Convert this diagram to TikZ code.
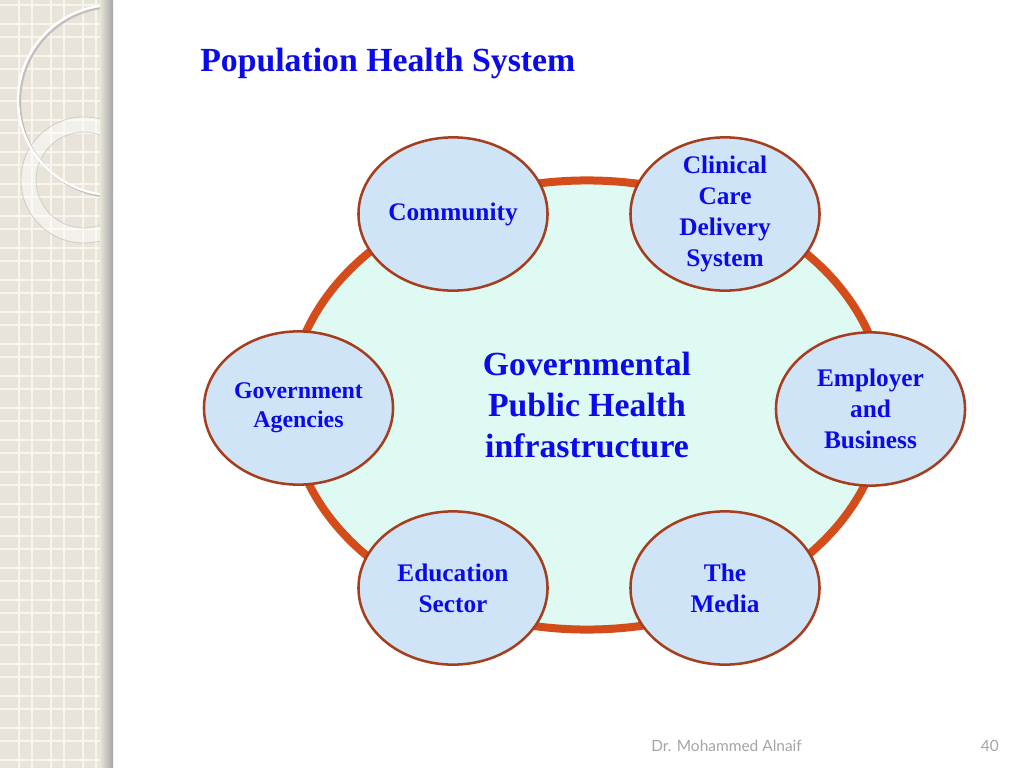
\documentclass[tikz,border=0pt]{standalone}
\usepackage{fontspec}
\setmainfont{Liberation Serif}
\newfontfamily\footfont{Lato}
\usetikzlibrary{shapes.geometric}
\definecolor{titleblue}{RGB}{10,10,235}
\definecolor{ringorange}{RGB}{212,76,26}
\definecolor{rimred}{RGB}{166,62,30}
\definecolor{sectorfill}{RGB}{207,228,247}
\definecolor{hubfill}{RGB}{222,250,242}
\definecolor{stripbeige}{RGB}{232,228,217}
\definecolor{gridline}{RGB}{248,245,236}
\definecolor{footgray}{RGB}{165,165,165}
\begin{document}
\begin{tikzpicture}[x=0.025cm, y=-0.025cm,
 sector/.style={ellipse, draw=rimred, line width=1.8pt, fill=sectorfill, minimum width=4.725cm, minimum height=3.83cm, inner sep=-8pt, align=center, text=titleblue, font=\bfseries\fontsize{18}{22}\selectfont},
 slidetext/.style={inner sep=0pt, text=footgray, font=\footfont\fontsize{11}{13}\selectfont}]
 \useasboundingbox (0,0) rectangle (1024,768);
 \fill[white] (0,0) rectangle (1024,768);
 % left strip
 \begin{scope}
 \clip (0,0) rectangle (113,768);
 \fill[stripbeige] (0,0) rectangle (113,768);
 \foreach \x in {19,51,83}
  \draw[gridline, line width=1.1pt] (\x,0) -- (\x,768) (\x+13,0) -- (\x+13,768);
 \foreach \y in {-8,24,...,760}
  \draw[gridline, line width=1.1pt] (0,\y) -- (113,\y) (0,\y+13) -- (113,\y+13);
 \draw[white, opacity=0.45, line width=0.375cm] (84,180) circle[radius=55.5];
 \draw[black!30, opacity=0.5, line width=0.6pt] (84,180) circle[radius=63] (84,180) circle[radius=48];
 \draw[black!25, line width=1.5pt] (115,102) circle[radius=95];
 \draw[white, line width=1.6pt] (113,100) circle[radius=95];
 \shade[left color=stripbeige, right color=black!35] (100,0) rectangle (113,768);
 \end{scope}
 \node[anchor=base west, inner sep=0pt, text=titleblue, font=\bfseries\fontsize{24}{29}\selectfont] (title) at (200,72) {Population Health System};
 \node[ellipse, draw=ringorange, line width=0.2cm, fill=hubfill, minimum width=14.85cm, minimum height=11.225cm, inner sep=0pt, align=center, text=titleblue, font=\bfseries\fontsize{24}{29}\selectfont] (hub) at (587,405) {Governmental\\Public Health\\infrastructure};
 \node[sector] (community) at (453,214) {Community};
 \node[sector] (clinical) at (725,214) {Clinical\\Care\\Delivery\\System};
 \node[sector, font=\bfseries\fontsize{17}{20.5}\selectfont] (agencies) at (298.5,408) {Government\\Agencies};
 \node[sector] (employer) at (870.5,409) {Employer\\and\\Business};
 \node[sector] (education) at (453,588) {Education\\Sector};
 \node[sector] (media) at (725,588) {The\\Media};
 \node[slidetext, anchor=base west] (author) at (651,751) {Dr. Mohammed Alnaif};
 \node[slidetext, anchor=base east] (page) at (999,751) {40};
\end{tikzpicture}
\end{document}
